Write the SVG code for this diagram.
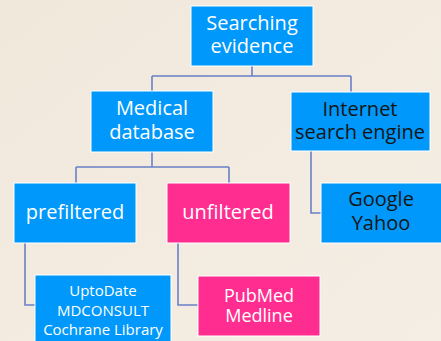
<svg xmlns="http://www.w3.org/2000/svg" width="441" height="341" viewBox="0 0 441 341">
<style>
.b{fill:#0098fa;stroke:#ffffff;stroke-width:1}
.p{fill:#ff2d8f;stroke:#ffffff;stroke-width:1}
.t{font-family:"Open Sans","Noto Sans",sans-serif;font-size:20px;text-anchor:middle;fill:#ffffff}
.k{fill:#151515}
.s{font-size:15px}
.m{font-size:18px}
.c{fill:none;stroke:#6a80c8;stroke-width:1.6}
</style>
<defs>
<linearGradient id="bg" x1="0" y1="0" x2="1" y2="1">
<stop offset="0" stop-color="#f1e8dc"/>
<stop offset="1" stop-color="#f5eee4"/>
</linearGradient>
</defs>
<rect width="441" height="341" fill="url(#bg)"/>
<g id="connectors">
<path class="c" d="M252 66V76M152 76H351M152 76V91M351 76V92"/>
<path class="c" d="M152 152V167M76 167H229M76 167V183M229 167V183"/>
<path class="c" d="M311 151V213H321"/>
<path class="c" d="M25 243V305H35"/>
<path class="c" d="M178 243V305H198"/>
</g>
<g id="searching">
<rect class="b" x="191" y="6" width="122" height="60"/>
<text class="t" x="252" y="30">Searching</text>
<text class="t" x="252" y="53">evidence</text>
</g>
<g id="medical">
<rect class="b" x="91" y="91" width="122" height="61"/>
<text class="t" x="152" y="115">Medical</text>
<text class="t" x="152" y="139">database</text>
</g>
<g id="internet">
<rect class="b" x="291" y="92" width="139" height="59"/>
<text class="t k" x="360" y="116">Internet</text>
<text class="t k" x="360" y="139">search engine</text>
</g>
<g id="prefiltered">
<rect class="b" x="14" y="183" width="122" height="60"/>
<text class="t" x="75" y="219">prefiltered</text>
</g>
<g id="unfiltered">
<rect class="p" x="167" y="183" width="123" height="60"/>
<text class="t" x="228" y="219">unfiltered</text>
</g>
<g id="google">
<rect class="b" x="321" y="183" width="125" height="60"/>
<text class="t k" x="381" y="206">Google</text>
<text class="t k" x="381" y="230">Yahoo</text>
</g>
<g id="uptodate">
<rect class="b" x="35" y="275" width="136" height="70"/>
<text class="t s" x="103" y="296">UptoDate</text>
<text class="t s" x="103" y="316">MDCONSULT</text>
<text class="t s" x="103" y="335">Cochrane Library</text>
</g>
<g id="pubmed">
<rect class="p" x="198" y="276" width="122" height="60"/>
<text class="t m" x="259" y="302">PubMed</text>
<text class="t m" x="259" y="322">Medline</text>
</g>
</svg>
